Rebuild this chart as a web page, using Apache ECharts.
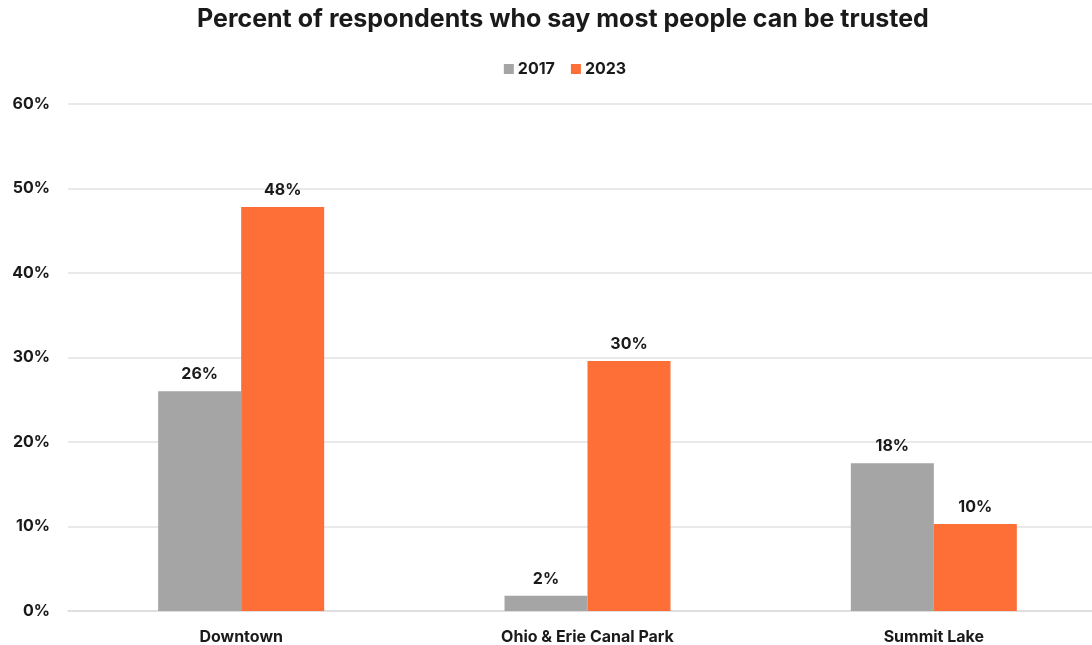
<!DOCTYPE html>
<html>
<head>
<meta charset="utf-8">
<script src="https://cdn.jsdelivr.net/npm/echarts@6/dist/echarts.min.js"></script>
<style>
html,body{margin:0;padding:0;background:#fff;overflow:hidden;}
#chart{width:1130px;height:645px;}
</style>
</head>
<body>
<div id="chart"></div>
<script>
const categories = ['Downtown', 'Ohio & Erie Canal Park', 'Summit Lake'];
const values2017 = [26.0, 1.8, 17.5];
const values2023 = [47.8, 29.6, 10.3];
const seriesNames = ['2017', '2023'];
const yTicks = [0, 10, 20, 30, 40, 50, 60];

const FONT = 'Inter, Roboto, "Noto Sans", sans-serif';
const TXT = '#1a1a1a';

const chart = echarts.init(document.getElementById('chart'));
const labelCfg = {
  show: true,
  position: 'top',
  distance: 9,
  color: TXT,
  fontFamily: FONT,
  fontWeight: 'bold',
  fontSize: 16,
  formatter: p => Math.round(p.value) + '%'
};
chart.setOption({
  animation: false,
  backgroundColor: '#ffffff',
  title: {
    text: 'Percent of respondents who say most people can be trusted',
    left: 192,
    top: 2,
    textStyle: {fontFamily: FONT, fontWeight: 'bold', fontSize: 25, color: TXT}
  },
  legend: {
    data: seriesNames,
    top: 56,
    left: 'center',
    itemWidth: 10,
    itemHeight: 10,
    itemGap: 16,
    icon: 'rect',
    textStyle: {fontFamily: FONT, fontWeight: 'bold', fontSize: 16, color: TXT, padding: [0,0,0,-1]}
  },
  grid: {left: 68, top: 104, width: 1039, height: 507},
  xAxis: {
    type: 'category',
    data: categories,
    axisLine: {show: true, lineStyle: {color: '#dcdcdc', width: 1.5}},
    axisTick: {show: false},
    axisLabel: {fontFamily: FONT, fontWeight: 'bold', fontSize: 16, color: TXT, margin: 18}
  },
  yAxis: {
    type: 'value',
    min: yTicks[0],
    max: yTicks[yTicks.length - 1],
    interval: 10,
    axisLine: {show: false},
    axisTick: {show: false},
    splitLine: {lineStyle: {color: '#e2e2e2', width: 1.5}},
    axisLabel: {fontFamily: FONT, fontWeight: 'bold', fontSize: 16, color: TXT, margin: 18, formatter: v => v + '%'}
  },
  series: [
    {name: seriesNames[0], type: 'bar', data: values2017, barWidth: 83, barGap: '0%', itemStyle: {color: '#a5a5a5'}, label: labelCfg},
    {name: seriesNames[1], type: 'bar', data: values2023, barWidth: 83, barGap: '0%', itemStyle: {color: '#fd6f37'}, label: labelCfg}
  ]
});
</script>
</body>
</html>
